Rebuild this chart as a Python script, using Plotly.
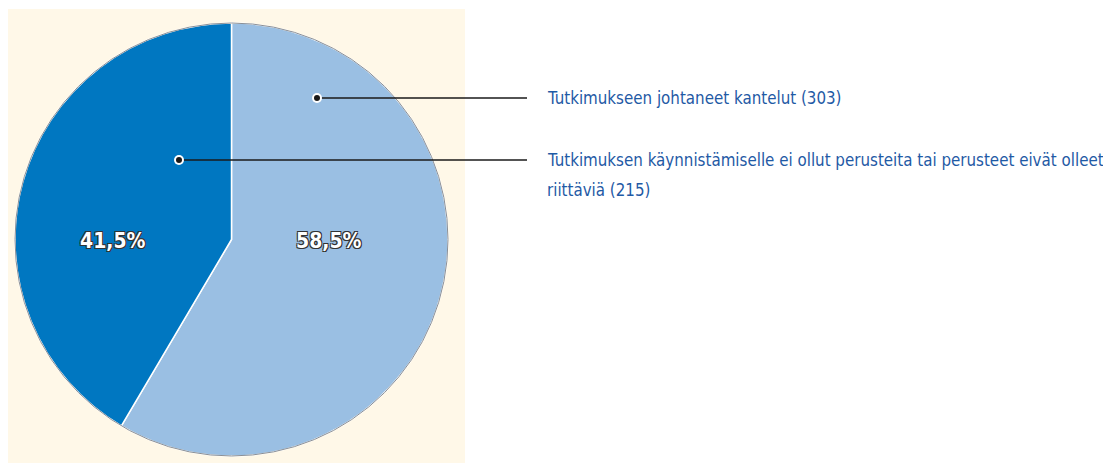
import plotly.graph_objects as go

# ---- data ----
labels = ["Tutkimukseen johtaneet kantelut", "Tutkimuksen käynnistämiselle ei ollut perusteita tai perusteet eivät olleet riittäviä"]
values = [303, 215]
colors = ["#9ABFE3", "#0077C1"]
legend_lines = [
    ["Tutkimukseen johtaneet kantelut (303)"],
    ["Tutkimuksen käynnistämiselle ei ollut perusteita tai perusteet eivät olleet", "riittäviä (215)"],
]

OFF = 8  # page body margin
W, H = 1111 - OFF, 464 - OFF
FONT = "DejaVu Sans Condensed, Liberation Sans Narrow, sans-serif"
TXT = "#1F5AA5"

def X(px):
    return px - OFF

def Y(py):
    return py - OFF

cx, cy, r = X(231.5), Y(239.5), 216.5

fig = go.Figure()
fig.add_trace(go.Pie(
    labels=labels, values=values, sort=False, direction="clockwise", rotation=0,
    marker=dict(colors=colors, line=dict(color="white", width=1.5)),
    textinfo="none",
    domain=dict(x=[(cx - r) / W, (cx + r) / W], y=[1 - (cy + r) / H, 1 - (cy - r) / H]),
    showlegend=False, hoverinfo="label+value+percent",
))

shapes = [
    dict(type="rect", xref="x", yref="y", x0=X(6), x1=X(465), y0=Y(9), y1=Y(463),
         fillcolor="#FFF8E8", line=dict(width=0), layer="below"),
    dict(type="circle", xref="x", yref="y", x0=cx - r, x1=cx + r, y0=cy - r, y1=cy + r,
         line=dict(color="#8A8F96", width=1), layer="above"),
]
dots = [(X(317), Y(98)), (X(179), Y(160))]
line_end = X(527)
for (dx, dy) in dots:
    shapes.append(dict(type="line", xref="x", yref="y", x0=dx, x1=line_end, y0=dy, y1=dy,
                       line=dict(color="#1A1A1A", width=1.3), layer="above"))
    shapes.append(dict(type="circle", xref="x", yref="y", x0=dx - 5, x1=dx + 5, y0=dy - 5, y1=dy + 5,
                       fillcolor="white", line=dict(width=0), layer="above"))
    shapes.append(dict(type="circle", xref="x", yref="y", x0=dx - 3, x1=dx + 3, y0=dy - 3, y1=dy + 3,
                       fillcolor="#1A1A1A", line=dict(width=0), layer="above"))

annotations = []
for i, lines in enumerate(legend_lines):
    y0 = dots[i][1]
    for j, t in enumerate(lines):
        annotations.append(dict(x=X(545), y=y0 + 30 * j, xref="x", yref="y", text=t, showarrow=False,
                                xanchor="left", yanchor="middle",
                                font=dict(family=FONT, size=16.8, color=TXT)))

# percentage labels inside slices
total = sum(values)
pct_pos = [(X(329), Y(241)), (X(113), Y(241))]
for v, (px, py) in zip(values, pct_pos):
    t = f"{100 * v / total:.1f}%".replace(".", ",")
    annotations.append(dict(x=px, y=py, xref="x", yref="y", text=f"<b>{t}</b>", showarrow=False,
                            xanchor="center", yanchor="middle",
                            font=dict(family=FONT, size=21, color="white",
                                      shadow="-1px -1px 0 #333, 1px -1px 0 #333, -1px 1px 0 #333, 1px 1px 0 #333")))

fig.update_layout(
    width=W, height=H, margin=dict(l=0, r=0, t=0, b=0),
    paper_bgcolor="white", plot_bgcolor="rgba(0,0,0,0)",
    xaxis=dict(range=[0, W], visible=False, domain=[0, 1], fixedrange=True),
    yaxis=dict(range=[H, 0], visible=False, domain=[0, 1], fixedrange=True),
    shapes=shapes, annotations=annotations,
)
fig.write_html("out.html")
